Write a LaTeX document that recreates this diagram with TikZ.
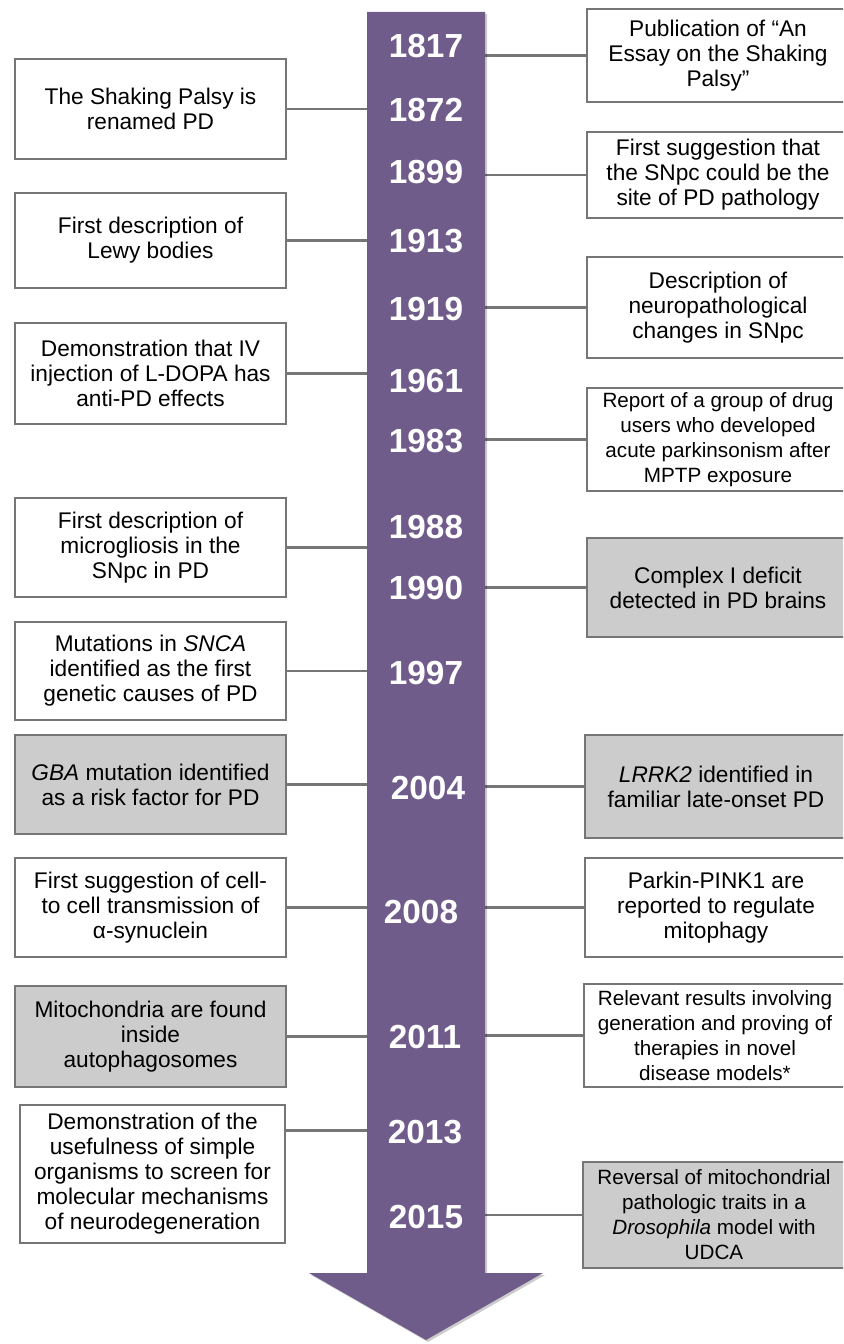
\documentclass[tikz,border=0pt]{standalone}
\usepackage{fontspec}
\setmainfont{Liberation Sans}
\definecolor{tlpurple}{RGB}{112,92,139}
\definecolor{boxline}{RGB}{118,118,118}
\definecolor{boxfill}{RGB}{204,204,204}
\tikzset{
  evbox/.style={draw=boxline, line width=1.9pt, fill=white, align=center, inner sep=2pt,
    font=\fontsize{17}{18.75}\selectfont, minimum width=203.25pt, minimum height=75pt},
  evboxr/.style={evbox, minimum width=196.5pt},
  hl/.style={fill=boxfill},
  smalltext/.style={font=\fontsize{15.5}{18.75}\selectfont},
  year/.style={text=white, font=\bfseries\fontsize{25}{30}\selectfont, inner sep=0.75pt},
  conn/.style={draw=boxline, line width=2pt},
}
\begin{document}
\begin{tikzpicture}[x=0.75pt,y=0.75pt,yscale=-1,xscale=1]
\useasboundingbox (0,0) rectangle (843,1344);
\clip (0,0) rectangle (843,1344);

%shaft edges
\coordinate (sw) at (367,0);
\coordinate (se) at (485,0);

% Left boxes
\draw (150.5,109) node (l1) [evbox] {The Shaking Palsy is\\renamed PD};
\draw (150.5,240.5) node (l2) [evbox, minimum height=71.25pt] {First description of\\Lewy bodies};
\draw (150.5,373.5) node (l3) [evbox, minimum height=75.75pt] {Demonstration that IV\\injection of L-DOPA has\\anti-PD effects};
\draw (150.5,547.5) node (l4) [evbox, minimum height=74.25pt] {First description of\\microgliosis in the\\SNpc in PD};
\draw (150.5,671) node (l5) [evbox, minimum height=73.5pt] {Mutations in \textit{SNCA}\\identified as the first\\genetic causes of PD};
\draw (150.5,784.5) node (l6) [evbox, hl, minimum height=74.25pt] {\textit{GBA} mutation identified\\as a risk factor for PD};
\draw (150.5,907.5) node (l7) [evbox, minimum height=74.25pt] {First suggestion of cell-\\to cell transmission of\\α-synuclein};
\draw (150.5,1036.5) node (l8) [evbox, hl, minimum height=75.75pt] {Mitochondria are found\\inside\\autophagosomes};
\draw (152.5,1174) node (l9) [evbox, minimum width=198.75pt, minimum height=103.5pt] {Demonstration of the\\usefulness of simple\\organisms to screen for\\molecular mechanisms\\of neurodegeneration};

% Right boxes
\draw (718,55.5) node (r1) [evboxr, minimum height=69.75pt] {Publication of “An\\Essay on the Shaking\\Palsy”};
\draw (718,175) node (r2) [evboxr, minimum height=64.5pt] {First suggestion that\\the SNpc could be the\\site of PD pathology};
\draw (718,307.5) node (r3) [evboxr, minimum height=75.75pt] {Description of\\neuropathological\\changes in SNpc};
\draw (718,439.5) node (r4) [evboxr, smalltext, minimum height=77.25pt] {Report of a group of drug\\users who developed\\acute parkinsonism after\\MPTP exposure};
\draw (718,587.5) node (r5) [evboxr, hl, minimum height=74.25pt] {Complex I deficit\\detected in PD brains};
\draw (716,786.5) node (r6) [evboxr, hl, minimum height=77.25pt] {\textit{LRRK2} identified in\\familiar late-onset PD};
\draw (716,907.5) node (r7) [evboxr, minimum height=74.25pt] {Parkin-PINK1 are\\reported to regulate\\mitophagy};
\draw (715,1035.5) node (r8) [evboxr, smalltext, minimum height=77.25pt] {Relevant results involving\\generation and proving of\\therapies in novel\\disease models*};
\draw (714,1215) node (r9) [evboxr, hl, smalltext, minimum height=79.5pt] {Reversal of mitochondrial\\pathologic traits in a\\\textit{Drosophila} model with\\UDCA};

% Connectors
\foreach \b in {l1,l2,l3,l4,l5,l6,l7,l8}
  \draw [conn] (\b.east) -- (\b.east -| sw);
\draw [conn] (l9.north east) ++(0,27) coordinate (l9c) -- (l9c -| sw);
\foreach \b in {r1,r2,r3,r4,r5,r6,r7,r8,r9}
  \draw [conn] (\b.west) -- (\b.west -| se);

% Arrow with shadow
\fill [black, opacity=0.2] (369,14) -- (487,14) -- (487,1275) -- (545,1275) -- (428,1342) -- (311,1275) -- (369,1275) -- cycle;
\fill [tlpurple] (sw |- 0,12) -- (se |- 0,12) -- (se |- 0,1273) -- (543,1273) -- (426,1340) -- (309,1273) -- (sw |- 0,1273) -- cycle;

% Years
\draw (426,46) node (y1817) [year] {1817};
\draw (426,110) node (y1872) [year] {1872};
\draw (426,172) node (y1899) [year] {1899};
\draw (426,241) node (y1913) [year] {1913};
\draw (426,309) node (y1919) [year] {1919};
\draw (426,381) node (y1961) [year] {1961};
\draw (426,441) node (y1983) [year] {1983};
\draw (426,527) node (y1988) [year] {1988};
\draw (426,588) node (y1990) [year] {1990};
\draw (426,673) node (y1997) [year] {1997};
\draw (428,788) node (y2004) [year] {2004};
\draw (421,912) node (y2008) [year] {2008};
\draw (425,1037) node (y2011) [year] {2011};
\draw (425,1132) node (y2013) [year] {2013};
\draw (426,1217) node (y2015) [year] {2015};

\end{tikzpicture}
\end{document}
